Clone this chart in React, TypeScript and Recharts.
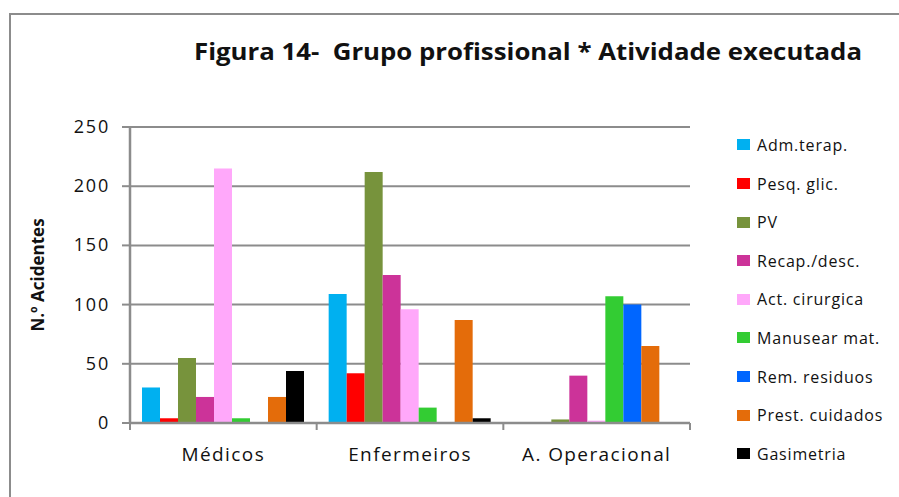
import React from 'react';
import { BarChart, Bar, XAxis, YAxis, CartesianGrid } from 'recharts';

const categories = ['Médicos', 'Enfermeiros', 'A. Operacional'];
const seriesNames = [
  'Adm.terap.',
  'Pesq. glic.',
  'PV',
  'Recap./desc.',
  'Act. cirurgica',
  'Manusear mat.',
  'Rem. residuos',
  'Prest. cuidados',
  'Gasimetria',
];
const seriesColors = [
  '#00B0F0',
  '#FF0000',
  '#77933C',
  '#CC3399',
  '#FFA8FA',
  '#33CC33',
  '#0066FF',
  '#E46C0A',
  '#000000',
];
// values per series, ordered as categories
const admTerap = [30, 109, 0];
const pesqGlic = [4, 42, 0];
const pv = [55, 212, 3];
const recapDesc = [22, 125, 40];
const actCirurgica = [215, 96, 2];
const manusearMat = [4, 13, 107];
const remResiduos = [0, 0, 100];
const prestCuidados = [22, 87, 65];
const gasimetria = [44, 4, 0];
const yTicks = [0, 50, 100, 150, 200, 250];

const seriesValues = [
  admTerap,
  pesqGlic,
  pv,
  recapDesc,
  actCirurgica,
  manusearMat,
  remResiduos,
  prestCuidados,
  gasimetria,
];

const data = categories.map((c, i) => {
  const row: Record<string, string | number> = { name: c };
  seriesNames.forEach((s, j) => {
    row[s] = seriesValues[j][i];
  });
  return row;
});

const GRID = '#8c8c8c';
const FONT = '"Open Sans", sans-serif';
const PLOT_LEFT = 130;
const PLOT_RIGHT = 690;
const BAND = (PLOT_RIGHT - PLOT_LEFT) / categories.length;

const XTick = (props: any) => {
  const { x, y, payload, index } = props;
  const isLast = index === categories.length - 1;
  return (
    <g>
      <line x1={x - BAND / 2} y1={y} x2={x - BAND / 2} y2={y + 7} stroke={GRID} strokeWidth={2} />
      {isLast && (
        <line x1={x + BAND / 2} y1={y} x2={x + BAND / 2} y2={y + 7} stroke={GRID} strokeWidth={2} />
      )}
      <text
        x={x}
        y={y + 38}
        textAnchor="middle"
        fontFamily={FONT}
        fontSize={19}
        letterSpacing={1.4}
        fill="#111"
      >
        {payload.value}
      </text>
    </g>
  );
};

const YTick = (props: any) => {
  const { x, y, payload } = props;
  return (
    <text
      x={x}
      y={y}
      dy={6}
      textAnchor="end"
      fontFamily={FONT}
      fontSize={18}
      letterSpacing={1.8}
      fill="#111"
    >
      {payload.value}
    </text>
  );
};

export default function App() {
  return (
    <div
      style={{
        position: 'absolute',
        left: 0,
        top: 0,
        width: 899,
        height: 497,
        overflow: 'hidden',
        background: '#fff',
      }}
    >
      <div
        style={{
          position: 'absolute',
          left: 9,
          top: 13,
          width: 1000,
          height: 1000,
          border: `2px solid ${GRID}`,
          boxSizing: 'border-box',
        }}
      />
      <BarChart
        width={899}
        height={497}
        data={data}
        margin={{ top: 127, right: 899 - PLOT_RIGHT, bottom: 34, left: 0 }}
        barCategoryGap={12}
        barGap={0}
        style={{ position: 'absolute', left: 0, top: 0 }}
      >
        <CartesianGrid vertical={false} stroke={GRID} strokeWidth={2} />
        <XAxis
          dataKey="name"
          height={40}
          axisLine={{ stroke: GRID, strokeWidth: 2.5 }}
          tickLine={false}
          tickSize={0}
          tickMargin={0}
          tick={<XTick />}
          interval={0}
        />
        <YAxis
          width={PLOT_LEFT}
          domain={[0, 250]}
          ticks={yTicks}
          interval={0}
          axisLine={{ stroke: GRID, strokeWidth: 2.5 }}
          tickLine={{ stroke: GRID, strokeWidth: 2 }}
          tickSize={8}
          tickMargin={12}
          tick={<YTick />}
          label={{
            content: () => (
              <text
                x={44}
                y={275}
                transform="rotate(-90, 44, 275)"
                textAnchor="middle"
                fontFamily={FONT}
                fontWeight="bold"
                fontSize={17}
                fill="#111"
              >
                N.º Acidentes
              </text>
            ),
          }}
        />
        {seriesNames.map((s, i) => (
          <Bar key={s} dataKey={s} fill={seriesColors[i]} isAnimationActive={false} />
        ))}
      </BarChart>
      <div style={{ position: 'absolute', left: 737, top: 125.7, width: 162 }}>
        {seriesNames.map((s, i) => (
          <div key={s} style={{ height: 38.6, display: 'flex', alignItems: 'center' }}>
            <div style={{ width: 13, height: 11, background: seriesColors[i], marginRight: 7 }} />
            <span
              style={{
                fontFamily: FONT,
                fontSize: 16,
                letterSpacing: 0.8,
                color: '#111',
                whiteSpace: 'nowrap',
              }}
            >
              {s}
            </span>
          </div>
        ))}
      </div>
      <svg
        width={899}
        height={497}
        style={{ position: 'absolute', left: 0, top: 0, pointerEvents: 'none' }}
      >
        <text
          x={194}
          y={60}
          fontFamily={FONT}
          fontWeight="bold"
          fontSize={24}
          textLength={668}
          lengthAdjust="spacingAndGlyphs"
          fill="#111"
          xmlSpace="preserve"
          style={{ whiteSpace: 'pre' }}
        >
          {'Figura 14-\u00A0\u00A0Grupo profissional * Atividade executada'}
        </text>
      </svg>
    </div>
  );
}
